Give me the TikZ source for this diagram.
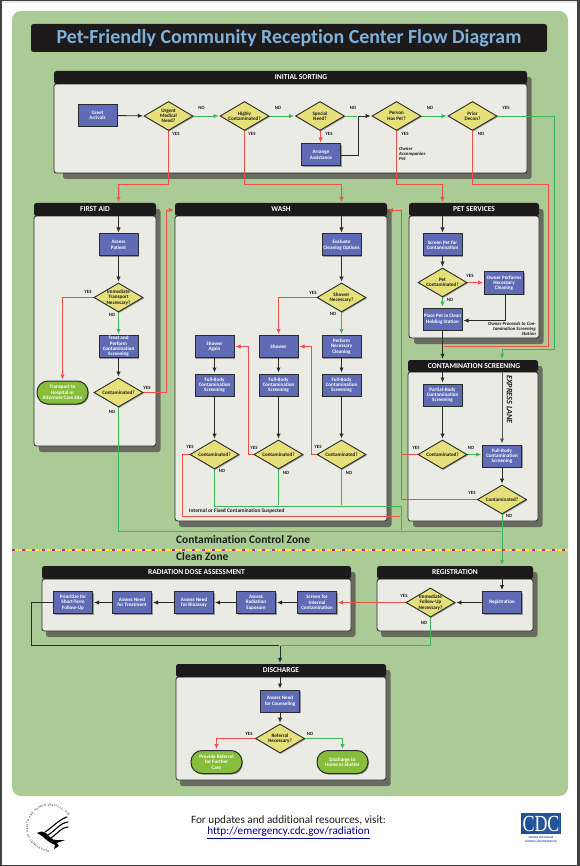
\documentclass[tikz,border=0pt]{standalone}
\usepackage{fontspec}
\setmainfont[Ligatures=NoCommon]{Carlito}
\newfontfamily\cdcserif{Liberation Serif}
\usetikzlibrary{arrows.meta,shapes.geometric,shadows,decorations.text,calc}
\pgfdeclarelayer{bg}\pgfdeclarelayer{conn}
\pgfsetlayers{bg,conn,main}
\definecolor{rxgreen}{HTML}{AACB95}
\definecolor{rxblack}{HTML}{1C1A1B}
\definecolor{rxbody}{HTML}{E9EBE4}
\definecolor{rxshade}{HTML}{686C60}
\definecolor{rxblue}{HTML}{5F6CB5}
\definecolor{rxyel}{HTML}{E6E07A}
\definecolor{rxpill}{HTML}{86BE3C}
\definecolor{rxline}{HTML}{2B2B2B}
\definecolor{rxred}{HTML}{EF4F47}
\definecolor{rxgr}{HTML}{3FB653}
\definecolor{rxtitle}{HTML}{7DB2DD}
\definecolor{rxcdc}{HTML}{1A4E96}
\tikzset{
  smalltext/.style={font=\bfseries\fontsize{5.1}{5.3}\selectfont,align=center,inner sep=0pt},
  pbody/.style={draw=rxline,line width=.8pt,fill=rxbody,rounded corners=2.5pt,inner sep=0pt},
  phead/.style={fill=rxblack,rounded corners=2.5pt,inner sep=0pt},
  ptitle/.style={text=white,font=\bfseries\fontsize{7.5}{8}\selectfont,inner sep=0pt},
  pshade/.style={fill=rxshade,rounded corners=2.5pt},
  stepbox/.style={smalltext,text=white,draw=rxline,line width=1pt,fill=rxblue,minimum width=39pt,minimum height=22pt,
    drop shadow={shadow xshift=1pt,shadow yshift=-1pt,fill=black,opacity=.35}},
  quest/.style={diamond,draw=rxline,line width=.9pt,fill=rxyel,minimum width=49pt,minimum height=29pt,inner sep=0pt,aspect=1.69,
    drop shadow={shadow xshift=1pt,shadow yshift=-1pt,fill=black,opacity=.35}},
  questtext/.style={smalltext,text=rxblack},
  endpill/.style={smalltext,text=white,draw=rxline,line width=1pt,fill=rxpill,minimum width=51pt,minimum height=23pt,rounded corners=11pt,
    drop shadow={shadow xshift=1pt,shadow yshift=-1pt,fill=black,opacity=.35}},
  ynlabel/.style={font=\bfseries\fontsize{4.8}{5}\selectfont,text=rxblack,inner sep=0pt},
  notetext/.style={font=\bfseries\itshape\fontsize{4.8}{5.2}\selectfont,text=rxblack,inner sep=0pt},
  zonetext/.style={font=\bfseries\fontsize{11.4}{13}\selectfont,text=rxblack,inner sep=0pt,anchor=west},
  conK/.style={draw=rxline,line width=.9pt,shorten >=1pt},
  conR/.style={draw=rxred,line width=.9pt,shorten >=1pt},
  conG/.style={draw=rxgr,line width=.9pt,shorten >=1pt},
  tip/.style={-{Latex[length=5pt,width=4.5pt]}},
}
\newcommand{\rxpanel}[9]{% name x1 x2 y1 y2 y3 title leftshade titleshift
  \begin{pgfonlayer}{bg}
    \fill[pshade] ({#2+#8},{#4+6}) rectangle ({#3+4.5},{#6+6});
    \node[pbody,minimum width={(#3-#2)*1pt},minimum height={(#6-#5)*1pt}] (#1b) at ({(#2+#3)/2},{(#5+#6)/2}) {};
    \node[phead,minimum width={(#3-#2)*1pt},minimum height={(#5-#4)*1pt}] (#1) at ({(#2+#3)/2},{(#4+#5)/2}) {};
    \node[ptitle] (#1t) at ({(#2+#3)/2+#9},{(#4+#5)/2}) {#7};
  \end{pgfonlayer}
}
\newcommand{\rxdia}[3]{\node[quest] (#1) at (#2) {}; \node[questtext] (#1t) at (#1) {#3};}
\newcommand{\rxlab}[3]{\node[ynlabel] (#1) at (#2) {#3};}
\begin{document}
\begin{tikzpicture}[x=1pt,y=-1pt]
\useasboundingbox (0,0) rectangle (580,866);
\begin{pgfonlayer}{bg}
  \fill[fill=black!75] (0,0) rectangle (580,866);
  \fill[white] (2,1) rectangle (577,865);
  \fill[black!8] (2,1) rectangle (577,3);
  \fill[rxgreen,rounded corners=9pt] (12,11) rectangle (568,796);
\end{pgfonlayer}
% title
\node[phead,minimum width=516pt,minimum height=28pt] (titlebar) at (289,38) {};
\node[text=rxtitle,font=\bfseries\fontsize{19.9}{22}\selectfont,inner sep=0pt] (titletext) at (289,38) {Pet-Friendly Community Reception Center Flow Diagram};
% panels
\rxpanel{hInit}{54}{527}{71}{84}{173}{INITIAL SORTING}{9}{10.5}
\rxpanel{hFirst}{34}{156}{203}{216}{446}{FIRST AID}{5}{0}
\rxpanel{hWash}{175}{387}{203}{216}{521}{WASH}{4}{0}
\rxpanel{hPet}{409}{539}{203}{216}{338}{PET SERVICES}{5}{0}
\rxpanel{hCont}{408}{538}{360}{372}{521}{CONTAMINATION SCREENING}{5}{1}
\rxpanel{hRad}{42}{351}{566}{579}{631}{RADIATION DOSE ASSESSMENT}{4}{0}
\rxpanel{hReg}{377}{533}{566}{579}{631}{REGISTRATION}{4}{0}
\rxpanel{hDis}{176}{386}{664}{677}{780}{DISCHARGE}{4}{0}
% initial sorting
\node[stepbox] (greet) at (97.5,115.5) {Greet\\Arrivals};
\rxdia{urgent}{168.5,116}{Urgent\\Medical\\Need?}
\rxdia{highly}{244.5,116}{Highly\\Contaminated?}
\rxdia{special}{320,116}{Special\\Need?}
\rxdia{person}{396.5,116}{Person\\Has Pet?}
\rxdia{prior}{472.5,116}{Prior\\Decon?}
\node[stepbox] (arrange) at (321,155) {Arrange\\Assistance};
\rxlab{l1}{201.5,108}{NO}\rxlab{l2}{176,134}{YES}
\rxlab{l3}{278,108}{NO}\rxlab{l4}{252,134}{YES}
\rxlab{l5}{353,108}{NO}\rxlab{l6}{329,134}{YES}
\rxlab{l7}{430,108}{NO}\rxlab{l8}{405,134}{YES}
\rxlab{l9}{506,108}{YES}\rxlab{l10}{481,134}{NO}
\node[notetext,align=left,anchor=north west] (ownerpet) at (399,147) {Owner\\Accompanies\\Pet};
% first aid
\node[stepbox] (assess) at (118.5,245) {Assess\\Patient};
\rxdia{immed}{118.5,297.5}{Immediate\\Transport\\Necessary?}
\node[stepbox] (treat) at (118.5,346.5) {Treat and\\Perform\\Contamination\\Screening};
\rxdia{faCont}{118.5,392.5}{Contaminated?}
\node[endpill] (transport) at (62.5,392.5) {Transport to\\Hospital or\\Alternate Care Site};
\rxlab{l11}{88,292}{YES}\rxlab{l12}{112,315}{NO}
\rxlab{l13}{147,388}{YES}\rxlab{l14}{112,412}{NO}
% wash
\node[stepbox] (evalc) at (341.5,245) {Evaluate\\Cleaning Options};
\rxdia{showerNec}{341.5,297.5}{Shower\\Necessary?}
\node[stepbox] (perform) at (341.5,346.5) {Perform\\Necessary\\Cleaning};
\node[stepbox] (shower) at (278.5,346.5) {Shower};
\node[stepbox] (again) at (214.5,346.5) {Shower\\Again};
\node[stepbox] (fbA) at (214.5,385) {Full-Body\\Contamination\\Screening};
\node[stepbox] (fbB) at (278.5,385) {Full-Body\\Contamination\\Screening};
\node[stepbox] (fbC) at (341.5,385) {Full-Body\\Contamination\\Screening};
\rxdia{wA}{214.5,454.5}{Contaminated?}
\rxdia{wB}{278.5,454.5}{Contaminated?}
\rxdia{wC}{341.5,454.5}{Contaminated?}
\rxlab{l15}{313,293}{YES}\rxlab{l16}{333,314}{NO}
\rxlab{l17}{190,447}{YES}\rxlab{l18}{222,471}{NO}
\rxlab{l19}{254,448}{YES}\rxlab{l20}{286,473}{NO}
\rxlab{l21}{318,447}{YES}\rxlab{l22}{349,473}{NO}
\node[notetext,font=\bfseries\fontsize{5.4}{6}\selectfont,anchor=west] (internal) at (189,511) {Internal or Fixed Contamination Suspected};
% pet services
\node[stepbox] (screenPet) at (442.5,245) {Screen Pet for\\Contamination};
\rxdia{petCont}{442.5,282.5}{Pet\\Contaminated?}
\node[stepbox] (ownerClean) at (504,283) {Owner Performs\\Necessary\\Cleaning};
\node[stepbox] (place) at (442.5,319) {Place Pet in Clean\\Holding Station};
\rxlab{l23}{470,276}{YES}\rxlab{l24}{450,300}{NO}
\node[notetext,align=right,anchor=north east] (proceeds) at (536,321.5) {Owner Proceeds to Con-\\tamination Screening\\Station};
% contamination screening
\node[stepbox] (partial) at (442.5,395) {Partial-Body\\Contamination\\Screening};
\rxdia{cA}{442.5,454.5}{Contaminated?}
\node[stepbox] (fullX) at (502,456) {Full-Body\\Contamination\\Screening};
\rxdia{cB}{502,499.5}{Contaminated?}
\node[rotate=-90,font=\bfseries\itshape\fontsize{8.2}{9}\selectfont,text=rxblack,inner sep=0pt] (express) at (509.5,399.5) {EXPRESS LANE};
\rxlab{l25}{416,448}{YES}\rxlab{l26}{471,448}{NO}
\rxlab{l27}{472,493}{YES}\rxlab{l28}{509,516}{NO}
% zones
\node[zonetext] (zoneA) at (176,540) {Contamination Control Zone};
\node[zonetext] (zoneB) at (176,557) {Clean Zone};
\draw[line width=1.4pt,draw=rxyel!40!yellow,dash pattern=on 6pt off 1pt] (12,550) -- (568,550);
\draw[line width=1.4pt,draw=magenta!80!black,dash pattern=on 3pt off 7pt] (12,550) -- (568,550);
% radiation
\node[stepbox] (prio) at (73,602.5) {Prioritize for\\Short-Term\\Follow-Up};
\node[stepbox] (treatN) at (132,602.5) {Assess Need\\for Treatment};
\node[stepbox] (bio) at (194,602.5) {Assess Need\\for Bioassay};
\node[stepbox] (expo) at (256,602.5) {Assess\\Radiation\\Exposure};
\node[stepbox] (internalS) at (317,602.5) {Screen for\\Internal\\Contamination};
% registration
\node[stepbox] (regbox) at (502,602.5) {Registration};
\rxdia{follow}{430.5,602.5}{Immediate\\Follow-Up\\Necessary?}
\rxlab{l29}{404,596}{YES}\rxlab{l30}{424,623}{NO}
% discharge
\node[stepbox] (counsel) at (280,701) {Assess Need\\for Counseling};
\rxdia{referral}{280,738.5}{Referral\\Necessary?}
\node[endpill] (provide) at (216.5,762) {Provide Referral\\for Further\\Care};
\node[endpill] (home) at (342.5,762) {Discharge to\\Home or Shelter};
\rxlab{l31}{249,734}{YES}\rxlab{l32}{310,734}{NO}
% footer
\node[font=\fontsize{11.2}{12}\selectfont,text=rxblack,inner sep=0pt] (foot1) at (288.5,820.5) {For updates and additional resources, visit:};
\node[font=\fontsize{11.2}{12}\selectfont,text=blue!55!black,inner sep=0pt] (foot2) at (288.5,832.5) {\underline{http://emergency.cdc.gov/radiation}};
% HHS seal
\begin{scope}[shift={(50,828)},y=1pt]
  \path[decorate,decoration={text along path,text align={fit to path},text={|\fontsize{2.9}{3}\selectfont|DEPARTMENT OF HEALTH AND HUMAN SERVICES, USA}}] (0,0) ++(268:22) arc[start angle=268,end angle=32,radius=22];
  \draw[line width=1.1pt,line cap=round] (-5,-4) .. controls (3,1) and (8,8) .. (17,11);
  \draw[line width=1.1pt,line cap=round] (-2,-7) .. controls (6,-2) and (10,5) .. (18,6);
  \draw[line width=1.1pt,line cap=round] (1,-10) .. controls (8,-5) and (12,1) .. (18,1);
  \fill (-13,-5) .. controls (-9,-3) and (-6,-3) .. (-4,-5) .. controls (0,-9) and (2,-12) .. (6,-12) -- (15,-12) -- (7,-15) -- (9,-18) -- (4,-21) -- (5,-17) .. controls (0,-15) and (-5,-11) .. (-8,-8) -- cycle;
\end{scope}
% CDC logo
\fill[rxcdc] (521,813) rectangle (561,834);
\foreach \k in {0,2,...,38}{\draw[white,opacity=.12,line width=.4pt] ({521+\k},813) -- ({540+\k*.5},834);}
\node[text=white,font=\cdcserif\fontsize{23}{24}\selectfont,inner sep=0pt,xscale=.78,transform shape] (cdc) at (541,823.5) {CDC};
\node[font=\bfseries\fontsize{2.7}{3.3}\selectfont,text=rxcdc,align=center,inner sep=0pt] (cdcsub) at (541,839.5) {CENTERS FOR DISEASE\\CONTROL AND PREVENTION};
% connectors
\begin{pgfonlayer}{conn}
\coordinate (jPerson) at (358,116);
\draw[conK,tip] (greet) -- (urgent);
\draw[conG,tip] (urgent) -- (highly);
\draw[conG,tip] (highly) -- (special);
\draw[conG] (special.east) -- (jPerson);
\draw[conK] (arrange.east) -| (jPerson);
\draw[conK,tip] (jPerson) -- (person);
\draw[conG,tip] (person) -- (prior);
\draw[conR,tip] (special) -- (arrange);
\draw[conR,tip] (urgent.south) -- ++(0,54) -| (hFirst.north -| assess);
\draw[conR,tip] (highly.south) -- ++(0,54) -| (hWash.north -| evalc);
\draw[conR,tip] (person.south) -- ++(0,54) -| (hPet.north -| place);
\coordinate (jPa) at (548,184);\coordinate (jPb) at (548,346);
\draw[conR] (prior.south) |- (jPa) -- (jPb) -- (place |- jPb);
\coordinate (jGa) at (554,349);
\draw[conG,tip] (prior.east) -| (jGa) -| (hCont.north -| fullX);
% first aid
\draw[conK,tip] (hFirst.south -| assess) -- (assess);
\draw[conK,tip] (assess) -- (immed);
\draw[conG,tip] (immed) -- (treat);
\draw[conK,tip] (treat) -- (faCont);
\draw[conR,tip] (immed.west) -| (transport.north);
\coordinate (jFa) at (166,210);
\draw[conR,tip] (faCont.east) -| (jFa) -- (hWash.west |- jFa);
% wash
\draw[conK,tip] (hWash.south -| evalc) -- (evalc);
\draw[conK,tip] (evalc) -- (showerNec);
\draw[conG,tip] (showerNec) -- (perform);
\draw[conR,tip] (showerNec.west) -| (shower.north);
\draw[conK,tip] (perform) -- (fbC);
\draw[conK,tip] (shower) -- (fbB);
\draw[conK,tip] (again) -- (fbA);
\draw[conK,tip] (fbA) -- (wA);
\draw[conK,tip] (fbB) -- (wB);
\draw[conK,tip] (fbC) -- (wC);
\coordinate (jSa) at (311,346.5);\coordinate (jSb) at (248,346.5);
\draw[conR,tip] (wC.west) -| (jSa) -- (shower.east);
\draw[conR,tip] (wB.west) -| (jSb) -- (again.east);
\coordinate (jRt) at (401,210);\coordinate (jL) at (182,516);
\draw[conR,tip] (cB.west) -| (jRt) -- (hWash.east |- jRt);
\draw[conR] (cA.west) -- (jRt |- cA.west);
\draw[conR] (wA.west) -| (jL) -- (jRt |- jL);
\coordinate (jG1) at (401,506);\coordinate (jG2) at (401,531);
\draw[conG] (wA.south) |- (jG1) -- (jG2);
\draw[conG] (wB.south) -- (wB.south |- jG1);
\draw[conG] (wC.south) -- (wC.south |- jG1);
\draw[conG] (faCont.south) |- (cB.south |- jG2);
\draw[conG,tip] (cB.south) -- (hReg.north -| regbox);
% pet
\draw[conK,tip] (hPet.south -| screenPet) -- (screenPet);
\draw[conK,tip] (screenPet) -- (petCont);
\draw[conG,tip] (petCont) -- (place);
\draw[conR,tip] (petCont.east) -- (ownerClean.west |- petCont.east);
\coordinate (jOw) at (505,320.5);
\draw[conK,tip] (ownerClean.south -| jOw) -- (jOw) -- (place.east |- jOw);
\draw[conK,tip] (place) -- (hCont.north -| place);
% contamination
\draw[conK,tip] (hCont.south -| partial) -- (partial);
\draw[conK,tip] (partial) -- (cA);
\draw[conG,tip] (cA.east) -- (fullX.west |- cA.east);
\draw[conK,tip,draw=black!65] (hCont.south -| fullX) -- (fullX);
\draw[conK,tip] (fullX) -- (cB);
% radiation
\draw[conK,tip] (internalS) -- (expo);
\draw[conK,tip] (expo) -- (bio);
\draw[conK,tip] (bio) -- (treatN);
\draw[conK,tip] (treatN) -- (prio);
\draw[conR,tip] (follow.west) -- (internalS.east |- follow.west);
\coordinate (jD) at (280,645.5);\coordinate (jD1) at (31,645.5);
\draw[conK] (prio.west) -| (jD1) -- (jD);
\draw[conK,tip] (jD) -- (hDis.north -| jD);
\draw[conG] (follow.south) |- (jD);
% registration
\draw[conK,tip] (hReg.south -| regbox) -- (regbox);
\draw[conK,tip] (regbox) -- (follow);
% discharge
\draw[conK,tip] (hDis.south -| counsel) -- (counsel);
\draw[conK,tip] (counsel) -- (referral);
\draw[conR,tip] (referral.west) -| (provide.north);
\draw[conG,tip] (referral.east) -| (home.north);
\end{pgfonlayer}
\end{tikzpicture}
\end{document}
